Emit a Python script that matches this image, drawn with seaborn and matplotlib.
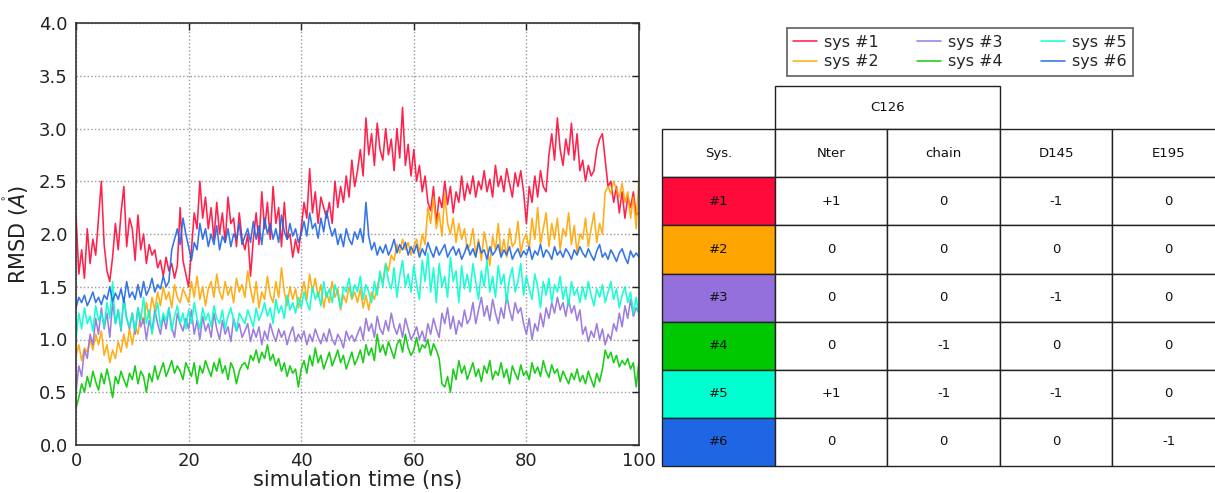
import numpy as np
import pandas as pd
import matplotlib
matplotlib.use("Agg")
import matplotlib.pyplot as plt
from matplotlib.patches import Rectangle
import seaborn as sns

# ---------------- data ----------------
time_ns = np.arange(0, 100.5, 0.5)

sys1 = [2.18, 1.62, 1.85, 1.58, 2.05, 1.72, 1.95, 1.80, 2.15, 2.50, 1.90, 1.65, 1.55, 1.78, 2.10, 1.85, 2.20, 2.45, 1.88, 2.15,
        2.05, 1.75, 2.18, 1.85, 2.00, 1.72, 1.90, 1.80, 1.85, 1.68, 1.75, 1.60, 1.78, 1.65, 1.72, 1.58, 1.70, 2.25, 1.75, 1.62,
        1.50, 1.85, 2.20, 2.05, 2.50, 2.15, 2.35, 2.05, 2.25, 1.95, 2.30, 2.00, 2.20, 1.92, 2.35, 2.10, 2.15, 1.88, 2.20, 1.95,
        1.85, 2.00, 1.60, 1.95, 2.20, 1.90, 2.40, 2.05, 2.30, 1.95, 2.45, 2.10, 2.25, 1.88, 2.30, 1.95, 2.00, 1.78, 1.95, 1.82,
        2.05, 2.30, 2.15, 2.62, 2.20, 2.40, 2.10, 2.35, 2.25, 2.15, 2.30, 2.10, 2.50, 2.25, 2.45, 2.30, 2.55, 2.35, 2.70, 2.45,
        2.60, 2.80, 2.55, 3.10, 2.75, 2.95, 2.65, 3.05, 2.80, 2.70, 3.00, 2.75, 2.90, 2.60, 3.00, 2.72, 3.20, 2.65, 2.85, 2.55,
        2.80, 2.50, 2.65, 2.40, 2.55, 2.30, 2.22, 2.45, 2.10, 2.35, 2.25, 2.50, 2.28, 2.45, 2.20, 2.40, 2.30, 2.55, 2.32, 2.48,
        2.38, 2.55, 2.35, 2.50, 2.42, 2.60, 2.40, 2.52, 2.35, 2.65, 2.45, 2.55, 2.40, 2.62, 2.48, 2.35, 2.58, 2.45, 2.60, 2.40,
        2.10, 2.45, 2.30, 2.55, 2.35, 2.60, 2.45, 2.40, 2.75, 2.95, 2.70, 3.10, 2.80, 2.65, 2.90, 2.75, 3.05, 2.70, 2.95, 2.60,
        2.70, 2.50, 2.65, 2.55, 2.60, 2.80, 2.90, 2.95, 2.70, 2.45, 2.50, 2.30, 2.45, 2.20, 2.40, 2.15, 2.35, 2.25, 2.40, 2.18,
        2.20]

sys2 = [0.85, 0.95, 0.80, 0.92, 0.88, 1.00, 0.90, 1.05, 0.95, 1.08, 0.85, 0.95, 0.78, 0.90, 0.82, 0.98, 0.88, 1.05, 0.92, 1.10,
        0.95, 1.12, 1.05, 1.25, 1.15, 1.35, 1.20, 1.40, 1.28, 1.45, 1.32, 1.50, 1.38, 1.45, 1.30, 1.52, 1.40, 1.35, 1.48, 1.42,
        1.35, 1.55, 1.40, 1.60, 1.38, 1.50, 1.32, 1.48, 1.55, 1.40, 1.62, 1.45, 1.38, 1.55, 1.42, 1.50, 1.35, 1.58, 1.45, 1.52,
        1.40, 1.65, 1.48, 1.35, 1.55, 1.30, 1.45, 1.38, 1.60, 1.42, 1.35, 1.55, 1.40, 1.68, 1.45, 1.32, 1.50, 1.38, 1.48, 1.30,
        1.42, 1.55, 1.38, 1.62, 1.45, 1.58, 1.40, 1.52, 1.30, 1.45, 1.35, 1.55, 1.40, 1.48, 1.28, 1.42, 1.35, 1.50, 1.38, 1.45,
        1.35, 1.48, 1.30, 1.42, 1.28, 1.45, 1.38, 1.50, 1.60, 1.55, 1.72, 1.65, 1.80, 1.75, 1.90, 1.82, 1.95, 1.85, 1.92, 1.80,
        1.88, 1.95, 1.82, 2.00, 1.90, 2.25, 2.10, 2.35, 2.05, 2.20, 1.98, 2.38, 2.10, 2.00, 2.15, 1.92, 2.10, 1.95, 2.05, 1.85,
        1.90, 2.05, 1.80, 1.95, 1.75, 2.02, 1.88, 1.70, 1.98, 1.85, 2.10, 1.80, 1.95, 1.78, 2.05, 1.88, 1.92, 2.12, 1.82, 1.95,
        2.00, 1.85, 2.15, 1.95, 2.25, 1.90, 2.05, 2.20, 1.88, 2.10, 1.95, 2.15, 1.85, 2.05, 1.98, 2.20, 1.90, 2.08, 1.82, 2.00,
        1.95, 2.15, 1.88, 2.05, 2.20, 1.92, 2.10, 2.00, 2.40, 2.45, 2.38, 2.50, 2.42, 2.35, 2.48, 2.30, 2.40, 2.15, 2.35, 2.05,
        2.55]

sys3 = [0.50, 0.75, 0.65, 0.90, 0.82, 1.05, 0.95, 1.20, 1.05, 1.30, 1.10, 1.25, 1.02, 1.35, 1.15, 1.28, 1.08, 1.40, 1.20, 1.10,
        1.25, 1.05, 1.30, 1.12, 1.20, 1.00, 1.18, 1.08, 1.28, 1.15, 1.05, 1.22, 1.10, 1.30, 1.12, 1.02, 1.25, 1.15, 1.08, 1.20,
        1.10, 1.28, 1.05, 1.18, 1.00, 1.22, 1.08, 1.15, 1.02, 1.25, 1.10, 1.00, 1.18, 1.05, 1.12, 0.98, 1.20, 1.08, 1.15, 1.02,
        1.08, 1.15, 0.98, 1.10, 1.02, 1.12, 0.95, 1.08, 1.00, 1.15, 1.05, 0.98, 1.10, 1.02, 1.08, 0.95, 1.05, 1.12, 0.98, 1.05,
        1.00, 1.08, 0.95, 1.05, 0.98, 1.10, 1.02, 0.96, 1.06, 0.98, 1.10, 1.00, 0.95, 1.05, 1.00, 0.92, 1.08, 1.00, 1.04, 0.98,
        1.05, 1.12, 1.00, 1.20, 1.08, 1.15, 1.02, 1.22, 1.10, 1.05, 1.18, 1.08, 1.25, 1.12, 1.05, 1.15, 1.02, 1.20, 1.10, 1.00,
        1.05, 1.12, 1.00, 1.08, 0.98, 1.15, 1.05, 1.20, 1.10, 1.02, 1.25, 1.15, 1.30, 1.10, 1.22, 1.05, 1.18, 1.12, 1.28, 1.15,
        1.20, 1.35, 1.15, 1.28, 1.40, 1.22, 1.32, 1.18, 1.38, 1.25, 1.15, 1.30, 1.20, 1.42, 1.28, 1.18, 1.35, 1.25, 1.30, 1.15,
        1.05, 1.20, 1.00, 1.15, 1.08, 1.25, 1.12, 1.30, 1.20, 1.35, 1.25, 1.40, 1.28, 1.35, 1.22, 1.38, 1.25, 1.32, 1.18, 1.28,
        1.05, 1.12, 0.98, 1.08, 1.02, 1.15, 1.00, 1.10, 0.95, 1.05, 1.00, 1.15, 1.08, 1.25, 1.12, 1.32, 1.20, 1.38, 1.22, 1.30,
        1.25]

sys4 = [0.35, 0.45, 0.58, 0.50, 0.65, 0.55, 0.70, 0.60, 0.52, 0.68, 0.58, 0.72, 0.60, 0.45, 0.65, 0.58, 0.70, 0.62, 0.55, 0.68,
        0.62, 0.75, 0.58, 0.70, 0.65, 0.50, 0.68, 0.60, 0.75, 0.62, 0.70, 0.78, 0.65, 0.72, 0.80, 0.68, 0.75, 0.70, 0.62, 0.78,
        0.72, 0.65, 0.78, 0.58, 0.75, 0.68, 0.80, 0.72, 0.65, 0.78, 0.70, 0.82, 0.68, 0.75, 0.62, 0.78, 0.72, 0.58, 0.70, 0.76,
        0.78, 0.72, 0.85, 0.80, 0.90, 0.78, 0.88, 0.82, 0.95, 0.80, 0.86, 0.75, 0.82, 0.70, 0.78, 0.65, 0.75, 0.68, 0.72, 0.55,
        0.72, 0.80, 0.68, 0.85, 0.75, 0.92, 0.78, 0.85, 0.72, 0.80, 0.88, 0.75, 0.82, 0.90, 0.78, 0.85, 0.72, 0.80, 0.88, 0.76,
        0.82, 0.90, 0.78, 0.95, 0.85, 0.92, 0.80, 1.05, 0.88, 0.95, 0.85, 0.98, 0.90, 0.82, 0.95, 1.00, 0.88, 1.05, 0.92, 0.85,
        0.90, 1.02, 0.88, 0.95, 0.92, 1.00, 0.85, 0.96, 0.90, 0.82, 0.58, 0.55, 0.65, 0.50, 0.72, 0.62, 0.80, 0.68, 0.75, 0.62,
        0.70, 0.78, 0.65, 0.72, 0.60, 0.75, 0.68, 0.80, 0.62, 0.70, 0.66, 0.78, 0.64, 0.72, 0.58, 0.75, 0.68, 0.62, 0.76, 0.66,
        0.70, 0.62, 0.78, 0.68, 0.74, 0.65, 0.80, 0.70, 0.64, 0.76, 0.68, 0.72, 0.60, 0.70, 0.64, 0.58, 0.68, 0.62, 0.72, 0.60,
        0.66, 0.58, 0.70, 0.62, 0.55, 0.68, 0.60, 0.72, 0.90, 0.82, 0.88, 0.78, 0.85, 0.74, 0.80, 0.76, 0.82, 0.72, 0.78, 0.55,
        0.80]

sys5 = [1.00, 1.25, 1.10, 1.30, 1.15, 1.22, 1.08, 1.32, 1.18, 1.25, 1.12, 1.35, 1.20, 1.55, 1.15, 1.28, 1.10, 1.38, 1.20, 1.12,
        1.25, 1.08, 1.30, 1.18, 1.40, 1.15, 1.28, 1.05, 1.22, 1.35, 1.12, 1.25, 1.18, 1.30, 1.08, 1.22, 1.32, 1.15, 1.25, 1.10,
        1.28, 1.15, 1.35, 1.20, 1.10, 1.30, 1.18, 1.25, 1.12, 1.32, 1.20, 1.15, 1.28, 1.10, 1.22, 1.30, 1.18, 1.08, 1.25, 1.20,
        1.15, 1.28, 1.20, 1.12, 1.30, 1.18, 1.25, 1.35, 1.22, 1.30, 1.15, 1.38, 1.25, 1.32, 1.20, 1.42, 1.28, 1.35, 1.25, 1.40,
        1.30, 1.45, 1.35, 1.28, 1.50, 1.38, 1.45, 1.32, 1.55, 1.40, 1.48, 1.35, 1.52, 1.42, 1.30, 1.50, 1.45, 1.58, 1.40, 1.52,
        1.45, 1.60, 1.38, 1.52, 1.45, 1.35, 1.55, 1.42, 1.65, 1.50, 1.72, 1.55, 1.48, 1.68, 1.40, 1.60, 1.75, 1.50, 1.62, 1.45,
        1.70, 1.52, 1.38, 1.75, 1.55, 1.82, 1.45, 1.68, 1.35, 1.72, 1.50, 1.60, 1.40, 1.78, 1.55, 1.65, 1.35, 1.70, 1.48, 1.62,
        1.45, 1.72, 1.55, 1.38, 1.65, 1.50, 1.75, 1.45, 1.60, 1.40, 1.70, 1.52, 1.62, 1.35, 1.58, 1.68, 1.45, 1.55, 1.72, 1.42,
        1.60, 1.48, 1.38, 1.62, 1.50, 1.30, 1.55, 1.42, 1.58, 1.35, 1.52, 1.45, 1.60, 1.38, 1.50, 1.32, 1.55, 1.42, 1.48, 1.35,
        1.50, 1.38, 1.55, 1.42, 1.32, 1.48, 1.40, 1.52, 1.35, 1.45, 1.55, 1.38, 1.48, 1.30, 1.42, 1.50, 1.35, 1.45, 1.25, 1.40,
        1.22]

sys6 = [1.30, 1.40, 1.35, 1.42, 1.32, 1.38, 1.45, 1.35, 1.40, 1.33, 1.42, 1.38, 1.50, 1.36, 1.44, 1.38, 1.48, 1.35, 1.55, 1.40,
        1.45, 1.38, 1.52, 1.40, 1.55, 1.42, 1.48, 1.58, 1.45, 1.52, 1.48, 1.60, 1.50, 1.55, 1.85, 1.95, 2.05, 1.90, 2.15, 2.00,
        1.88, 1.75, 1.92, 1.85, 2.10, 1.95, 2.05, 1.88, 2.00, 1.90, 2.08, 1.85, 1.98, 1.92, 2.05, 1.88, 2.00, 1.95, 2.10, 1.90,
        1.98, 2.05, 1.92, 2.12, 1.95, 2.08, 1.90, 2.15, 2.00, 2.10, 1.95, 2.05, 1.92, 2.18, 2.02, 1.95, 2.10, 1.98, 2.05, 1.92,
        2.00, 2.12, 1.98, 2.20, 2.05, 2.10, 1.96, 2.15, 2.02, 2.22, 2.08, 1.98, 2.05, 1.90, 2.00, 1.88, 2.05, 1.95, 1.90, 2.02,
        1.95, 2.05, 1.92, 2.30, 1.98, 1.85, 1.92, 1.80, 1.88, 1.82, 1.90, 1.80, 1.86, 1.95, 1.82, 1.90, 1.85, 1.92, 1.80, 1.88,
        1.82, 1.90, 1.78, 1.86, 1.80, 1.92, 1.84, 1.78, 1.88, 1.80, 1.85, 1.90, 1.78, 1.84, 1.88, 1.80, 1.86, 1.76, 1.82, 1.90,
        1.80, 1.86, 1.78, 1.92, 1.82, 1.85, 1.76, 1.88, 1.80, 1.84, 1.90, 1.78, 1.85, 1.80, 1.88, 1.76, 1.82, 1.86, 1.78, 1.84,
        1.80, 1.88, 1.76, 1.84, 1.80, 1.90, 1.78, 1.85, 1.82, 1.76, 1.88, 1.80, 1.84, 1.78, 1.86, 1.82, 1.76, 1.85, 1.80, 1.88,
        1.82, 1.78, 1.86, 1.80, 1.75, 1.84, 1.90, 1.78, 1.82, 1.76, 1.85, 1.80, 1.74, 1.82, 1.86, 1.78, 1.72, 1.84, 1.78, 1.82,
        1.78]

series_names = ["sys #1", "sys #2", "sys #3", "sys #4", "sys #5", "sys #6"]
series_values = [sys1, sys2, sys3, sys4, sys5, sys6]
colors = ["#FF0A3A", "#FFA500", "#9370DB", "#00C800", "#00FFD0", "#1F66E5"]

# table content
table_header = ["Sys.", "Nter", "chain", "D145", "E195"]
group_header = "C126"
sys_labels = ["#1", "#2", "#3", "#4", "#5", "#6"]
nter = ["+1", "0", "0", "0", "+1", "0"]
chain = ["0", "0", "0", "-1", "-1", "0"]
d145 = ["-1", "0", "-1", "0", "-1", "0"]
e195 = ["0", "0", "0", "0", "0", "-1"]

# ---------------- figure ----------------
sns.set_theme(style="white")
plt.rcParams["font.family"] = ["DejaVu Sans"]
plt.rcParams["mathtext.fontset"] = "dejavusans"

W, H = 1215, 493
fig = plt.figure(figsize=(W / 100, H / 100), dpi=100)
ax = fig.add_axes([76 / W, 48 / H, 563 / W, 422 / H])

df = pd.concat(
    [pd.DataFrame({"time": time_ns, "rmsd": vals, "system": name})
     for name, vals in zip(series_names, series_values)],
    ignore_index=True)

sns.lineplot(data=df, x="time", y="rmsd", hue="system", hue_order=series_names,
             palette=dict(zip(series_names, colors)), estimator=None, sort=False,
             lw=1.15, alpha=0.9, ax=ax)

ax.set_xlim(0, 100)
ax.set_ylim(0, 4)
ax.set_xticks([0, 20, 40, 60, 80, 100])
ax.set_yticks(np.arange(0, 4.01, 0.5))
ax.yaxis.set_major_formatter(matplotlib.ticker.FormatStrFormatter("%.1f"))
ax.grid(True, linestyle=":", color="0.6", lw=1.0)
ax.set_axisbelow(True)
ax.tick_params(direction="in", top=True, right=True, length=5, width=1,
               labelsize=13, pad=5, colors="#222222")
ax.tick_params(axis="y", pad=6)
for sp in ax.spines.values():
    sp.set_color("#333333")
    sp.set_linewidth(1.2)
ax.set_xlabel("simulation time (ns)", fontsize=15, labelpad=0, color="#222222")
ax.set_ylabel(r"RMSD ($\mathring{A}$)", fontsize=15, labelpad=6, color="#222222")

sns.move_legend(ax, loc="center", bbox_to_anchor=(960 / W, 1 - 52 / H),
                bbox_transform=fig.transFigure, ncol=3, title=None,
                fontsize=11.5, handlelength=1.5, handletextpad=0.45,
                columnspacing=2.4, frameon=True, fancybox=False,
                edgecolor="#333333", borderpad=0.4, labelspacing=0.3)
leg = ax.get_legend()
leg.get_frame().set_linewidth(1.2)

# ---------------- table ----------------
ax2 = fig.add_axes([662 / W, 27 / H, 563 / W, 380 / H])
ax2.set_xlim(0, 5)
ax2.set_ylim(0, 7.9)
ax2.axis("off")

edge = "#222222"
fs = 9.5

def cell(x, y, w, h, text, face="white"):
    ax2.add_patch(Rectangle((x, y), w, h, facecolor=face, edgecolor=edge,
                            lw=1.0, clip_on=False))
    ax2.text(x + w / 2, y + h / 2, text, ha="center", va="center",
             fontsize=fs, color="#111111", clip_on=False)

# group header spanning the two C126 columns
cell(1, 7, 2, 0.9, group_header)
# column headers
for j, name in enumerate(table_header):
    cell(j, 6, 1, 1, name)
# body rows
for i in range(len(sys_labels)):
    y = 5 - i
    row_vals = [sys_labels[i], nter[i], chain[i], d145[i], e195[i]]
    for j, v in enumerate(row_vals):
        cell(j, y, 1, 1, v, face=colors[i] if j == 0 else "white")

fig.savefig("out.png", dpi=100)
